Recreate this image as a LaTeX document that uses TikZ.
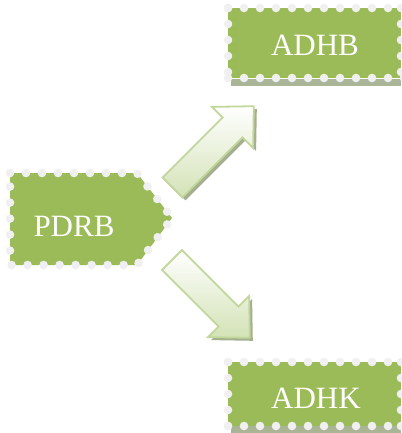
\documentclass[tikz,border=0pt]{standalone}
\usepackage{fontspec}
\setmainfont{Liberation Serif}
\usetikzlibrary{decorations.markings}
\definecolor{boxgreen}{HTML}{9BBB59}
\definecolor{dotcol}{HTML}{F0F0F0}
\definecolor{shadowcol}{HTML}{A9B596}
\definecolor{arrowline}{HTML}{C3D69B}
\definecolor{arrowfill}{HTML}{D3E2B6}
\definecolor{arrowshadow}{HTML}{A3AF8E}
\begin{document}
\begin{tikzpicture}[x=1pt,y=-1pt,
  boxfill/.style={fill=boxgreen},
  perf/.style={decoration={markings, mark=between positions 0 and 1 step 16pt with {\fill[dotcol] (0,0) circle (4.3pt);}}, decorate},
  lbl/.style={text=white, inner sep=0pt, font=\fontsize{31}{31}\selectfont},
  blockarrow/.style={draw=arrowline, line width=1.8pt, top color=white, bottom color=arrowfill, line join=miter},
  arrowshade/.style={fill=arrowshadow}]
\useasboundingbox (0,0) rectangle (401,433);

% shadows under the right boxes
\fill[shadowcol] (231,79) rectangle (401,86);
\fill[shadowcol] (231,426) rectangle (401,433);

% boxes
\fill[boxfill] (228,8) rectangle (401,78);
\path[perf] (228,8) -- (404,8);
\path[perf] (228,78) -- (404,78);
\path[perf] (228,8) -- (228,78);
\path[perf] (401,8) -- (401,78);
\fill[boxfill] (228,362) rectangle (401,426);
\path[perf] (228,362) -- (404,362);
\path[perf] (228,426) -- (404,426);
\path[perf] (228,362) -- (228,426);
\path[perf] (401,362) -- (401,426);
\fill[boxfill] (10,173) -- (137,173) -- (172,218) -- (137,265) -- (10,265) -- cycle;
\path[perf] (10,173) -- (137,173) -- (172,218) -- (137,265) -- (10,265) -- cycle;

% labels
\node[lbl] (pdrb) at (74,226) {PDRB};
\node[lbl] (adhb) at (315,45) {ADHB};
\node[lbl] (adhk) at (316,398) {ADHK};

% up arrow
\fill[arrowshade, shift={(3,3)}] (162.6,177.6) -- (222.7,117.5) -- (212.1,106.9) -- (253.8,106.2) -- (253.1,147.9) -- (242.5,137.3) -- (182.4,197.4) -- cycle;
\path[blockarrow] (162.6,177.6) -- (222.7,117.5) -- (212.1,106.9) -- (253.8,106.2) -- (253.1,147.9) -- (242.5,137.3) -- (182.4,197.4) -- cycle;

% down arrow
\fill[arrowshade, shift={(3,3)}] (162.1,269.9) -- (218.7,326.5) -- (208.1,337.1) -- (249.8,337.8) -- (249.1,296.1) -- (238.5,306.7) -- (181.9,250.1) -- cycle;
\path[blockarrow] (162.1,269.9) -- (218.7,326.5) -- (208.1,337.1) -- (249.8,337.8) -- (249.1,296.1) -- (238.5,306.7) -- (181.9,250.1) -- cycle;
\end{tikzpicture}
\end{document}
